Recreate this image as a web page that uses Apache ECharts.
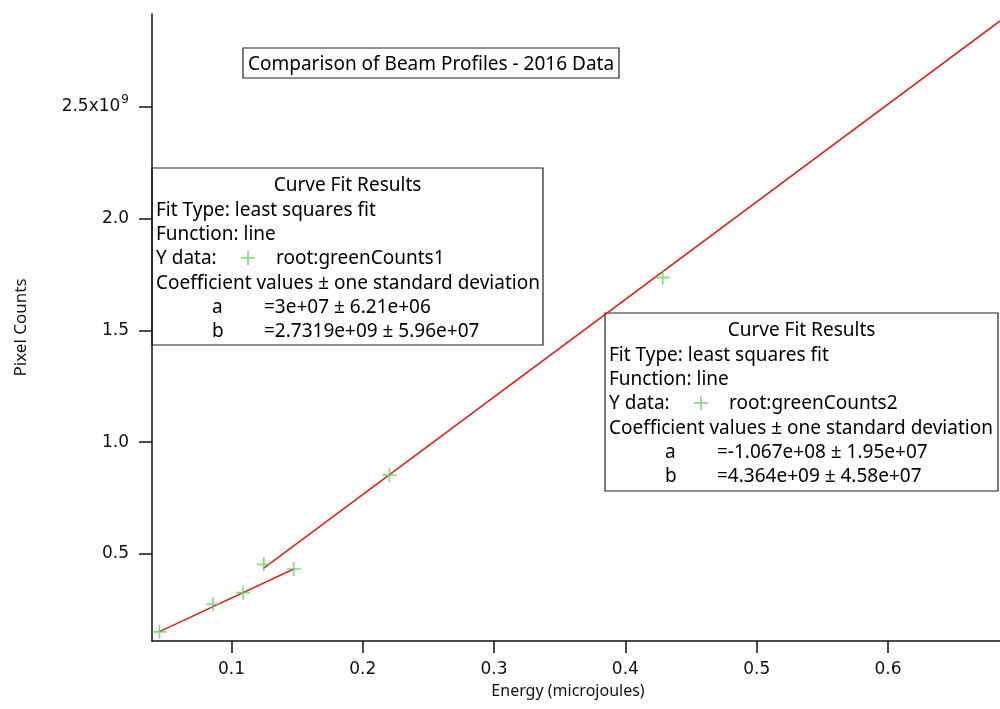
<!DOCTYPE html>
<html>
<head>
<meta charset="utf-8">
<script src="https://cdn.jsdelivr.net/npm/echarts@6/dist/echarts.min.js"></script>
<style>
html, body { margin: 0; padding: 0; background: #fff; }
#chart { width: 1000px; height: 709px; }
</style>
</head>
<body>
<div id="chart"></div>
<script>
// measured points (root:greenCounts)
var energy = [0.0452, 0.0861, 0.1089, 0.1246, 0.1474, 0.2203, 0.4285];
var counts = [0.152e9, 0.275e9, 0.327e9, 0.454e9, 0.433e9, 0.853e9, 1.736e9];

// fit line end points
var fit1X = [0.0452, 0.1474];
var fit1Y = [0.153e9, 0.433e9];
var fit2X = [0.1246, 0.6853];
var fit2Y = [0.437e9, 2.884e9];

var xTicks = [0.1, 0.2, 0.3, 0.4, 0.5, 0.6];
var yTicks = [0.5e9, 1.0e9, 1.5e9, 2.0e9, 2.5e9];

var chartTitle = 'Comparison of Beam Profiles - 2016 Data';
var fit1Text = ['least squares fit', 'line', 'root:greenCounts1', '=3e+07 \u00b1 6.21e+06', '=2.7319e+09 \u00b1 5.96e+07'];
var fit2Text = ['least squares fit', 'line', 'root:greenCounts2', '=-1.067e+08 \u00b1 1.95e+07', '=4.364e+09 \u00b1 4.58e+07'];

var green = '#5fd35f';
var red = '#e3211c';
var boxFont = 'Noto Sans';
var boxSize = 19;

function pairs(xs, ys) {
    var out = [];
    for (var i = 0; i < xs.length; i++) {
        out.push([xs[i], ys[i]]);
    }
    return out;
}

function txt(x, y, s, opts) {
    opts = opts || {};
    return {
        type: 'text',
        style: {
            text: s, x: x, y: y,
            fontFamily: boxFont, fontSize: boxSize,
            fill: opts.fill || '#000',
            align: opts.align || 'left',
            verticalAlign: 'middle'
        }
    };
}

// small thin plus used as legend key inside the boxes
function plusKey(cx, cy) {
    var s = { stroke: green, lineWidth: 1.3 };
    return {
        type: 'group',
        children: [
            { type: 'line', shape: { x1: cx - 7, y1: cy, x2: cx + 7, y2: cy }, style: s },
            { type: 'line', shape: { x1: cx, y1: cy - 7, x2: cx, y2: cy + 7 }, style: s }
        ]
    };
}

function fitBox(left, top, w, h, t) {
    return {
        type: 'group',
        x: left, y: top,
        z: 100,
        children: [
            { type: 'rect', shape: { x: 0, y: 0, width: w, height: h },
              style: { fill: '#fff', stroke: '#222', lineWidth: 1.2 } },
            txt(w / 2, 17.5, 'Curve Fit Results', { align: 'center' }),
            txt(4, 42.5, 'Fit Type: ' + t[0]),
            txt(4, 67, 'Function: ' + t[1]),
            txt(4, 91, 'Y data:'),
            plusKey(96, 90),
            txt(124, 91, t[2]),
            txt(4, 115.5, 'Coefficient values \u00b1 one standard deviation'),
            txt(60, 140, 'a'),
            txt(112, 140, t[3]),
            txt(60, 164, 'b'),
            txt(112, 164, t[4])
        ]
    };
}

var chart = echarts.init(document.getElementById('chart'));

var plusSymbol = 'path://M4.4,0H5.6V10H4.4ZM0,4.4H10V5.6H0Z';

chart.setOption({
    animation: false,
    backgroundColor: '#fff',
    grid: { left: 152, top: 14, right: 0, bottom: 68 },
    xAxis: {
        type: 'value',
        min: 0.0395,
        max: 0.6853,
        name: 'Energy (microjoules)',
        nameLocation: 'middle',
        nameGap: 42,
        nameTextStyle: { fontFamily: boxFont, fontSize: 16, color: '#111', padding: [0, 16, 0, 0] },
        axisLine: { onZero: false, lineStyle: { color: '#111', width: 1.5 } },
        axisTick: { show: true, inside: false, length: 12, customValues: xTicks, lineStyle: { color: '#111', width: 1.5 } },
        axisLabel: {
            customValues: xTicks, margin: 20,
            fontFamily: 'DejaVu Sans', fontSize: 17, color: '#111',
            formatter: function (v) { return v.toFixed(1); }
        },
        splitLine: { show: false }
    },
    yAxis: {
        type: 'value',
        min: 0.111e9,
        max: 2.915e9,
        name: 'Pixel Counts',
        nameLocation: 'middle',
        nameGap: 122,
        nameTextStyle: { fontFamily: boxFont, fontSize: 17, color: '#111' },
        axisLine: { onZero: false, lineStyle: { color: '#111', width: 1.5 } },
        axisTick: { show: true, inside: false, length: 13, customValues: yTicks, lineStyle: { color: '#111', width: 1.5 } },
        axisLabel: {
            customValues: yTicks, margin: 23,
            fontFamily: 'DejaVu Sans', fontSize: 17, color: '#111',
            formatter: function (v) {
                if (Math.abs(v - 2.5e9) < 1) {
                    return '{b|2.5x10}{sup|9}';
                }
                return (v / 1e9).toFixed(1);
            },
            rich: {
                b: { fontFamily: 'DejaVu Sans', fontSize: 17, color: '#111' },
                sup: { fontFamily: 'DejaVu Sans', fontSize: 12, color: '#111', padding: [0, 0, 14, 1] }
            }
        },
        splitLine: { show: false }
    },
    series: [
        {
            type: 'line', data: pairs(fit1X, fit1Y), symbol: 'none',
            lineStyle: { color: red, width: 1.6 }, z: 2
        },
        {
            type: 'line', data: pairs(fit2X, fit2Y), symbol: 'none',
            lineStyle: { color: red, width: 1.6 }, z: 2
        },
        {
            type: 'scatter', data: pairs(energy, counts),
            symbol: plusSymbol, symbolSize: 14,
            itemStyle: { color: green }, z: 3
        }
    ],
    graphic: [
        {
            type: 'group', x: 243, y: 48, z: 100,
            children: [
                { type: 'rect', shape: { x: 0, y: 0, width: 376, height: 30 },
                  style: { fill: '#fff', stroke: '#222', lineWidth: 1.2 } },
                txt(188, 16.5, chartTitle, { align: 'center' })
            ]
        },
        fitBox(152, 168, 391, 177, fit1Text),
        fitBox(605, 313, 393, 178, fit2Text)
    ]
});
</script>
</body>
</html>
